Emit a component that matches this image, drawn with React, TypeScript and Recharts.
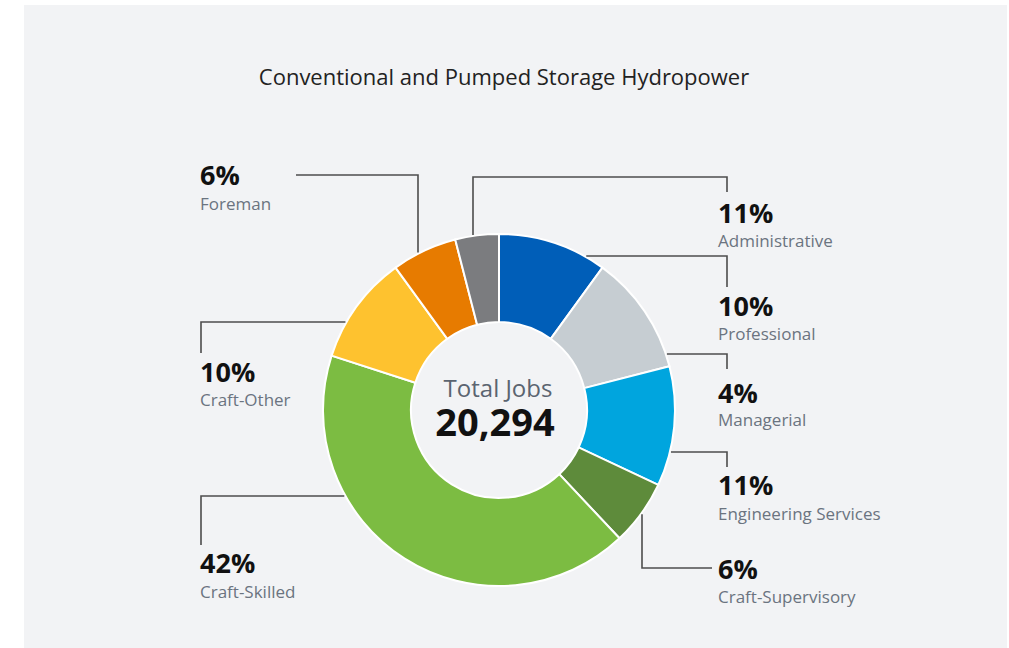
import { PieChart, Pie, Cell } from "recharts";

// Slices in clockwise order from 12 o'clock, named after the label each one points to.
const CATEGORIES = [
  "Professional",
  "Managerial",
  "Engineering Services",
  "Craft-Supervisory",
  "Craft-Skilled",
  "Craft-Other",
  "Foreman",
  "Administrative",
];
// Slice sizes as drawn (share of the ring, %).
const SHARES = [10, 11, 11, 6, 42, 10, 6, 4];
// Percentages as printed next to each slice.
const PCT_LABELS = ["10%", "4%", "11%", "6%", "42%", "10%", "6%", "11%"];
const TITLE = "Conventional and Pumped Storage Hydropower";
const CENTER_LABEL = "Total Jobs";
const TOTAL_JOBS = "20,294";

const COLORS = [
  "#005eb8",
  "#c6cdd2",
  "#00a5de",
  "#5e8b3b",
  "#7cbc42",
  "#fec22f",
  "#e77b00",
  "#7b7c7f",
];

const FONT = "'Open Sans', sans-serif";
const LINE_COLOR = "#4d4d4d";

// Leader-line layout, offsets from the pie centre.
// "h": leaves the ring horizontally at height `at`; "v": leaves vertically at x `at`.
type Leader = {
  kind: "h" | "v";
  at: number;
  elbow?: number;
  col: number;
  end: number;
  tx: number;
  pct: number;
  name: number;
};

const LEADERS: Leader[] = [
  { kind: "h", at: -154, col: 228, end: -123, tx: 219, pct: -94, name: -70 },
  { kind: "h", at: -56, col: 228, end: -41, tx: 219, pct: -7, name: 16 },
  { kind: "h", at: 42, col: 228, end: 57, tx: 219, pct: 85, name: 110 },
  { kind: "v", at: 143, elbow: 158, col: 213, end: 158, tx: 219, pct: 169, name: 193 },
  { kind: "h", at: 86, col: -298, end: 135, tx: -299, pct: 163, name: 188 },
  { kind: "h", at: -88, col: -298, end: -57, tx: -299, pct: -28, name: -4 },
  { kind: "v", at: -81, elbow: -235, col: -203, end: -235, tx: -299, pct: -225, name: -200 },
  { kind: "v", at: -26, elbow: -233, col: 228, end: -218, tx: 219, pct: -187, name: -163 },
];

const data = CATEGORIES.map((name, i) => ({ name, value: SHARES[i] }));

function renderLabel(props: any) {
  const { cx, cy, outerRadius, index } = props;
  const l = LEADERS[index];
  const r = outerRadius + 1;
  let d: string;
  if (l.kind === "h") {
    const ax = cx + Math.sign(l.col) * Math.sqrt(r * r - l.at * l.at);
    d = `M${ax},${cy + l.at} L${cx + l.col},${cy + l.at} L${cx + l.col},${cy + l.end}`;
  } else {
    const ay = cy + Math.sign(l.elbow!) * Math.sqrt(r * r - l.at * l.at);
    d = `M${cx + l.at},${ay} L${cx + l.at},${cy + l.elbow!} L${cx + l.col},${cy + l.elbow!} L${cx + l.col},${cy + l.end}`;
  }
  return (
    <g key={`lbl-${index}`}>
      <path d={d} fill="none" stroke={LINE_COLOR} strokeWidth={1.6} />
      <text
        x={cx + l.tx}
        y={cy + l.pct}
        fill="#111"
        fontFamily={FONT}
        fontWeight={700}
        fontSize={27}
      >
        {PCT_LABELS[index]}
      </text>
      <text x={cx + l.tx} y={cy + l.name} fill="#6b7480" fontFamily={FONT} fontSize={17}>
        {CATEGORIES[index]}
      </text>
      {index === 0 && (
        <>
          <text
            x={cx - 1}
            y={cy - 13}
            textAnchor="middle"
            fill="#5b6470"
            fontFamily={FONT}
            fontSize={24}
          >
            {CENTER_LABEL}
          </text>
          <text
            x={cx - 4}
            y={cy + 26}
            textAnchor="middle"
            fill="#111"
            fontFamily={FONT}
            fontWeight={700}
            fontSize={38}
          >
            {TOTAL_JOBS}
          </text>
        </>
      )}
    </g>
  );
}

export default function App() {
  return (
    <div
      style={{
        position: "absolute",
        left: 0,
        top: 0,
        width: 1009,
        height: 648,
        background: "#ffffff",
        overflow: "hidden",
      }}
    >
      <div
        style={{
          position: "absolute",
          left: 24,
          top: 5,
          width: 983,
          height: 643,
          background: "#f2f3f5",
        }}
      />
      <div
        style={{
          position: "absolute",
          left: 0,
          top: 65,
          width: 1008,
          textAlign: "center",
          fontFamily: FONT,
          fontSize: 22,
          lineHeight: 1,
          color: "#222",
        }}
      >
        {TITLE}
      </div>
      <div style={{ position: "absolute", left: 0, top: 0 }}>
        <PieChart width={1009} height={648} margin={{ top: 0, right: 0, bottom: 0, left: 0 }}>
          <Pie
            data={data}
            dataKey="value"
            nameKey="name"
            cx={499}
            cy={410}
            innerRadius={88}
            outerRadius={176}
            startAngle={90}
            endAngle={-270}
            stroke="#ffffff"
            strokeWidth={2}
            label={renderLabel}
            labelLine={false}
            isAnimationActive={false}
          >
            {data.map((_, i) => (
              <Cell key={i} fill={COLORS[i]} />
            ))}
          </Pie>
        </PieChart>
      </div>
    </div>
  );
}
